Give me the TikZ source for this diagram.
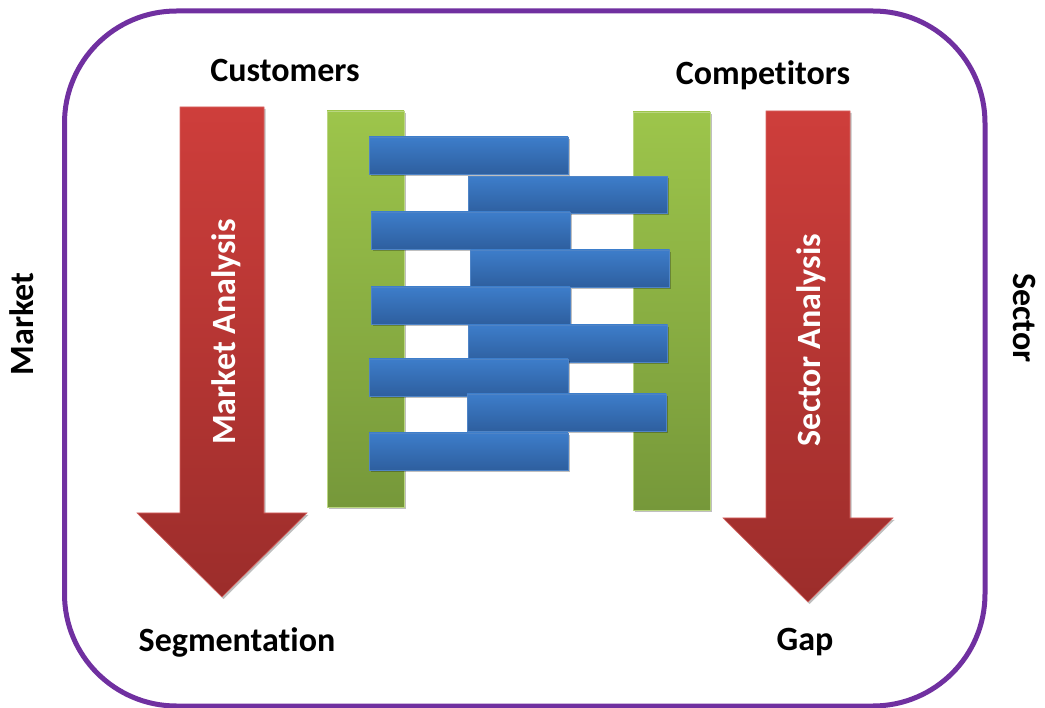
\documentclass[tikz,border=0pt]{standalone}
\usepackage{fontspec}
\setmainfont{Carlito}[Ligatures={NoCommon}]
\usetikzlibrary{shadows}
\definecolor{frameP}{HTML}{7030A0}
\definecolor{redT}{HTML}{CE3E3B}
\definecolor{redB}{HTML}{9C2D2B}
\definecolor{greenT}{HTML}{9DC54B}
\definecolor{greenB}{HTML}{76983A}
\definecolor{blueT}{HTML}{3D7DCA}
\definecolor{blueB}{HTML}{2E5F9F}
\definecolor{blueE}{HTML}{4F84C6}
\tikzset{
  softshadow/.style={drop shadow={shadow xshift=1.5pt, shadow yshift=-2pt, opacity=0.25, fill=black}},
  redarrow/.style={top color=redT, bottom color=redB, draw=redT!80!white, line width=0.6pt, softshadow},
  greenbar/.style={top color=greenT, bottom color=greenB, draw=greenT!70!white, line width=0.6pt, softshadow},
  bluebar/.style={rectangle, top color=blueT, bottom color=blueB, draw=blueE, line width=0.8pt,
    minimum width=199pt, minimum height=37pt, inner sep=0pt, softshadow},
  lbl/.style={font=\fontsize{34}{40}\selectfont\bfseries, text=black, inner sep=0pt, anchor=base},
  wlbl/.style={font=\fontsize{34}{40}\selectfont\bfseries, text=white, inner sep=0pt, anchor=base},
}
\begin{document}
\begin{tikzpicture}[x=1pt, y=-1pt]
\useasboundingbox (0,0) rectangle (1045,708);
% frame
\draw[frameP, line width=5pt, rounded corners=112pt] (64.5,11) rectangle (985,706);
% green bars
\path[greenbar] (327,111) rectangle (404,507);
\path[greenbar] (633,112) rectangle (710,510);
% red arrows
\path[redarrow] (180,107) -- (264,107) -- (264,513) -- (307,513) -- (222,597) -- (137,513) -- (180,513) -- cycle;
\path[redarrow] (766,111) -- (850,111) -- (850,518) -- (893,518) -- (808,602) -- (723,518) -- (766,518) -- cycle;
% blue bars
\node[bluebar] (b1) at (468.5,155.5) {};
\node[bluebar] (b2) at (568,195) {};
\node[bluebar] (b3) at (470.5,230.5) {};
\node[bluebar] (b4) at (570,268.5) {};
\node[bluebar] (b5) at (470.5,305.5) {};
\node[bluebar] (b6) at (568,343.5) {};
\node[bluebar] (b7) at (468.5,377.5) {};
\node[bluebar] (b8) at (566.5,412.5) {};
\node[bluebar] (b9) at (468.5,451.5) {};
% labels
\node[lbl] (cust) at (285,82) {Customers};
\node[lbl] (comp) at (763,85) {Competitors};
\node[lbl] (seg) at (237,651) {Segmentation};
\node[lbl] (gap) at (805,650) {Gap};
\node[lbl, rotate=90] (mkt) at (34,324) {Market};
\node[lbl, rotate=-90] (sec) at (1013,318) {Sector};
\node[wlbl, rotate=90] (ma) at (235,332) {Market Analysis};
\node[wlbl, rotate=90] (sa) at (820,340) {Sector Analysis};
\end{tikzpicture}
\end{document}
